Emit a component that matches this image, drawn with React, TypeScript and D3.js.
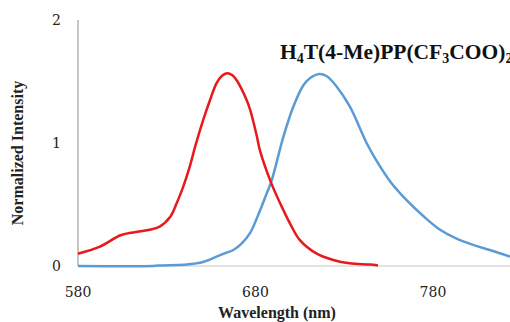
import React from "react";
import * as d3 from "d3";

const redWl = [580, 592, 604, 612, 619.7, 626, 632, 635.6, 639.3, 643, 646, 650.6, 654.4, 658, 661, 664, 667, 669.4, 675, 677, 680.7, 682.5, 689, 695.7, 700, 705, 714.5, 723.8, 733, 744.5, 749];
const redVal = [0.1, 0.155, 0.25, 0.275, 0.293, 0.32, 0.4, 0.51, 0.645, 0.81, 0.97, 1.19, 1.35, 1.485, 1.545, 1.567, 1.55, 1.51, 1.35, 1.27, 1.06, 0.94, 0.67, 0.455, 0.33, 0.21, 0.1, 0.049, 0.022, 0.012, 0.005];
const blueWl = [580, 622, 625, 640, 645, 651, 658, 663, 667.5, 672, 677, 682.5, 686.3, 689, 695.7, 701.3, 707, 711, 715.4, 720, 725.7, 733.2, 742.6, 748, 756, 765, 775, 784, 793, 803, 812, 823.4];
const blueVal = [0, 0, 0.004, 0.01, 0.018, 0.035, 0.076, 0.105, 0.13, 0.18, 0.27, 0.45, 0.59, 0.69, 1.05, 1.295, 1.47, 1.53, 1.56, 1.545, 1.46, 1.295, 1.0, 0.86, 0.685, 0.537, 0.4, 0.295, 0.225, 0.17, 0.13, 0.076];
const xTicks = [580, 680, 780];
const yTicks = [0, 1, 2];

export default function App() {
  const W = 510, H = 322;
  const x = d3.scaleLinear().domain([580, 823.4]).range([78, 510]);
  const y = d3.scaleLinear().domain([0, 2]).range([266, 20]);
  const line = d3.line<[number, number]>().x(d => x(d[0])).y(d => y(d[1])).curve(d3.curveCatmullRom);
  const red = line(redWl.map((w, i) => [w, redVal[i]]) as [number, number][]) || "";
  const blue = line(blueWl.map((w, i) => [w, blueVal[i]]) as [number, number][]) || "";
  const tickFont = "'DejaVu Serif', serif";
  const boldFont = "'Liberation Serif', 'Times New Roman', serif";
  return (
    <svg width={W} height={H} style={{ position: "absolute", left: 0, top: 0, background: "#fff" }}>
      <defs>
        <clipPath id="plot"><rect x={0} y={0} width={W} height={H} /></clipPath>
      </defs>
      <line x1={x(580)} x2={x(580)} y1={y(2)} y2={y(0)} stroke="#8c8c8c" strokeWidth={1} />
      <line x1={x(580)} x2={W} y1={y(0)} y2={y(0)} stroke="#c8c8c8" strokeWidth={1.2} />
      {yTicks.map(t => (
        <text key={t} x={61} y={y(t)} dy="0.35em" textAnchor="end" fontFamily={tickFont} fontSize={14} fill="#222">{t}</text>
      ))}
      {xTicks.map(t => (
        <text key={t} x={x(t)} y={292} dy="0.35em" textAnchor="middle" fontFamily={tickFont} fontSize={14} fill="#222">{t}</text>
      ))}
      <g clipPath="url(#plot)">
        <path d={blue} fill="none" stroke="#5b9bd5" strokeWidth={2.5} strokeLinejoin="round" />
        <path d={red} fill="none" stroke="#e8191c" strokeWidth={2.5} strokeLinejoin="round" />
      </g>
      <text x={277} y={318} textAnchor="middle" fontFamily={boldFont} fontWeight="bold" fontSize={16} fill="#222">Wavelength (nm)</text>
      <text transform="translate(23,153) rotate(-90)" textAnchor="middle" fontFamily={boldFont} fontWeight="bold" fontSize={16} fill="#222">Normalized Intensity</text>
      <text x={280} y={59} fontFamily={boldFont} fontWeight="bold" fontSize={21.5} fill="#111">
        H<tspan fontSize={14} dy={4}>4</tspan><tspan dy={-4}>T(4-Me)PP(CF</tspan><tspan fontSize={14} dy={4}>3</tspan><tspan dy={-4}>COO)</tspan><tspan fontSize={14} dy={4}>2</tspan>
      </text>
    </svg>
  );
}
